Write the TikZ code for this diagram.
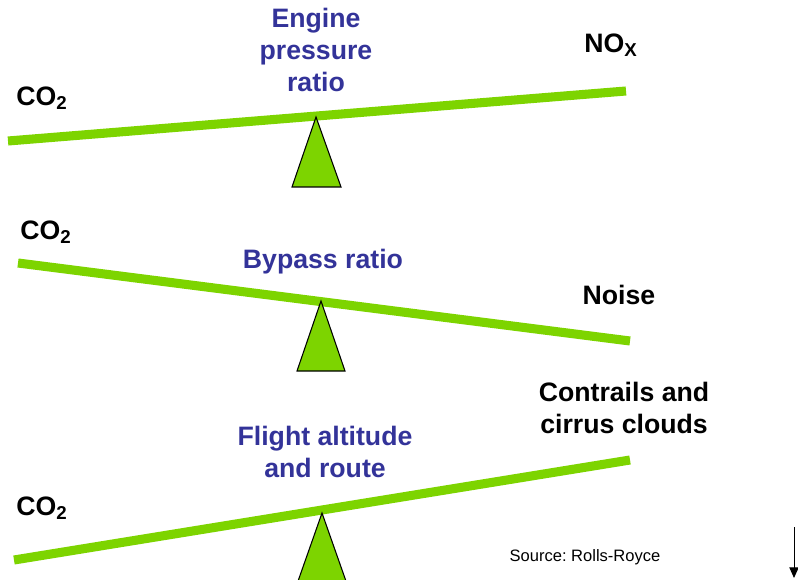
\documentclass[tikz,border=0pt]{standalone}
\usepackage{fontspec}
\setmainfont{Liberation Sans}
\usetikzlibrary{arrows.meta}
\definecolor{barGreen}{RGB}{125,212,0}
\definecolor{labelBlue}{RGB}{51,51,153}
\tikzset{
  beam/.style={barGreen, line width=6.8pt},
  pivot/.style={fill=barGreen, draw=black, line width=0.8pt, line join=miter},
  effect/.style={font=\bfseries\fontsize{20}{24}\selectfont, align=center, text=black},
  lever/.style={font=\bfseries\fontsize{20}{24}\selectfont, align=center, text=labelBlue}
}
\begin{document}
\begin{tikzpicture}[x=0.75pt,y=-0.75pt]
  \clip (0,0) rectangle (798,580);
  % top seesaw: engine pressure ratio
  \draw[beam] (8,141) -- (626,91);
  \draw[pivot] (316,117) -- (341,187) -- (292,187) -- cycle;
  \node[effect] (co2a) at (42,98) {CO\textsubscript{2}};
  \node[effect] (nox) at (611,45) {NO\textsubscript{X}};
  \node[lever] (epr) at (316,50) {Engine\\pressure\\ratio};
  % middle seesaw: bypass ratio
  \draw[beam] (18,263) -- (630,341);
  \draw[pivot] (321,301) -- (345,371) -- (297,371) -- cycle;
  \node[effect] (co2b) at (46,232) {CO\textsubscript{2}};
  \node[effect] (noise) at (619,295) {Noise};
  \node[lever] (bpr) at (323,262) {Bypass ratio};
  % bottom seesaw: flight altitude and route
  \draw[beam] (14,560) -- (630,460);
  \draw[pivot] (322,513) -- (347,584) -- (297,584) -- cycle;
  \node[effect] (co2c) at (42,508) {CO\textsubscript{2}};
  \node[effect] (contrails) at (624,408) {Contrails and\\cirrus clouds};
  \node[lever] (route) at (325,452) {Flight altitude\\and route};
  % source and page arrow
  \node[font=\frenchspacing\fontsize{12.4}{14}\selectfont] (source) at (585,557) {Source: Rolls-Royce};
  \coordinate (arrtop) at (794,527);
  \coordinate (arrend) at (794,578);
  \draw[-{Triangle[length=8pt,width=7pt]}, line width=0.75pt] (arrtop) -- (arrend);
\end{tikzpicture}
\end{document}
